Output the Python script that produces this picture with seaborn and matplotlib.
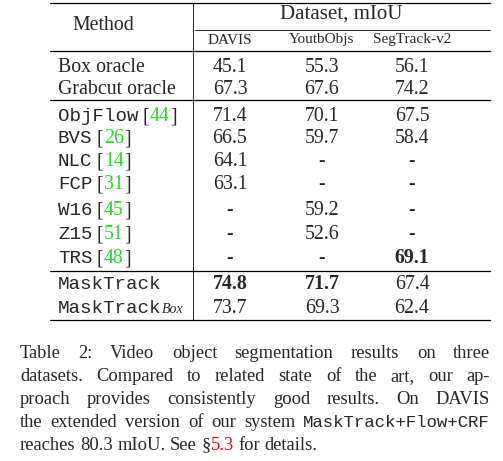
import matplotlib
matplotlib.use("Agg")
import matplotlib.pyplot as plt
import seaborn as sns

sns.set_theme(style="white")
SERIF = "Liberation Serif"
MONO = "Liberation Mono"

methods = ["Box oracle", "Grabcut oracle", "ObjFlow", "BVS", "NLC", "FCP", "W16", "Z15", "TRS", "MaskTrack", "MaskTrack"]
mono = [False, False, True, True, True, True, True, True, True, True, True]
cites = ["", "", "44", "26", "14", "31", "45", "51", "48", "", ""]
davis = ["45.1", "67.3", "71.4", "66.5", "64.1", "63.1", "-", "-", "-", "74.8", "73.7"]
youtube = ["55.3", "67.6", "70.1", "59.7", "-", "-", "59.2", "52.6", "-", "71.7", "69.3"]
segtrack = ["56.1", "74.2", "67.5", "58.4", "-", "-", "-", "-", "69.1", "67.4", "62.4"]
bold = {(9, 0), (9, 1), (8, 2)}
columns = ["DAVIS", "YoutbObjs", "SegTrack-v2"]
row_y = [67, 89, 116, 138, 161, 184, 210, 234, 258, 284, 308]
GREEN = "#22dd22"

fig = plt.figure(figsize=(5.03, 4.61), dpi=100)
ax = fig.add_axes([0, 0, 1, 1])
ax.set_xlim(0, 503); ax.set_ylim(461, 0); ax.axis("off")
fs = 14.3
mfs = 13.8
lw = 0.9
for y in [3, 51, 100, 271, 320]:
    ax.plot([50, 490], [y, y], color="black", lw=lw)
ax.plot([195, 490], [30, 30], color="black", lw=0.6)
ax.plot([193, 193], [3, 320], color="black", lw=0.6)
ax.text(103, 26, "Method", ha="center", va="center", family=SERIF, fontsize=fs)
ax.text(341, 14, "Dataset, mIoU", ha="center", va="center", family=SERIF, fontsize=15)
cx = [230, 322, 412]
for c, name in zip(cx, columns):
    ax.text(c, 40, name, ha="center", va="center", family=SERIF, fontsize=11)

fig.canvas.draw()
r = fig.canvas.get_renderer()
inv = ax.transData.inverted()

def seq(x, y, parts, gap=0.0):
    for s, kw in parts:
        t = ax.text(x, y, s, ha="left", va="baseline", **kw)
        bb = t.get_window_extent(renderer=r)
        x0 = inv.transform((bb.x0, bb.y0))[0]; x1 = inv.transform((bb.x1, bb.y0))[0]
        x += (x1 - x0) + gap
    return x

for i, m in enumerate(methods):
    y = row_y[i] + 5
    kwm = dict(family=MONO, fontsize=mfs) if mono[i] else dict(family=SERIF, fontsize=fs)
    parts = [(m, kwm)]
    if cites[i]:
        parts += [(" [", dict(family=SERIF, fontsize=fs)), (cites[i], dict(family=SERIF, fontsize=fs, color=GREEN)), ("]", dict(family=SERIF, fontsize=fs))]
    if i == 10:
        parts += [("Box", dict(family=SERIF, fontsize=10, style="italic"))]
    seq(58, y, parts)
    for j, vals in enumerate([davis, youtube, segtrack]):
        ax.text(cx[j], row_y[i], vals[i], ha="center", va="center", family=SERIF, fontsize=fs,
                fontweight="bold" if (i, j) in bold else "normal")

S = dict(family=SERIF, fontsize=13.3)
M = dict(family=MONO, fontsize=12.5)
R = dict(family=SERIF, fontsize=13.3, color="red")
lines = [
    [("Table", S), ("2:", S), ("Video", S), ("object", S), ("segmentation", S), ("results", S), ("on", S), ("three", S)],
    [("datasets.", S), ("Compared", S), ("to", S), ("related", S), ("state", S), ("of", S), ("the", S), ("art,", S), ("our", S), ("ap-", S)],
    [("proach", S), ("provides", S), ("consistently", S), ("good", S), ("results.", S), ("On", S), ("DAVIS", S)],
    [("the", S), ("extended", S), ("version", S), ("of", S), ("our", S), ("system", S), ("MaskTrack+Flow+CRF", M)],
    [("reaches", S), ("80.3", S), ("mIoU.", S), ("See", S), ("§", S), ("5.3", R), ("for", S), ("details.", S)],
]
def width(s, kw):
    t = ax.text(0, 0, s, **kw); bb = t.get_window_extent(renderer=r); t.remove()
    return inv.transform((bb.x1, 0))[0] - inv.transform((bb.x0, 0))[0]
L, Rr = 20, 490
for k, words in enumerate(lines):
    y = 358 + 23 * k
    if k < 4:
        ws = [width(w, kw) for w, kw in words]
        gap = (Rr - L - sum(ws)) / (len(words) - 1)
        x = L
        for (w, kw), wd in zip(words, ws):
            ax.text(x, y, w, ha="left", va="baseline", **kw); x += wd + gap
    else:
        x = L
        for n, (w, kw) in enumerate(words):
            ax.text(x, y, w, ha="left", va="baseline", **kw)
            x += width(w, kw) + (0 if w == "§" else 4.5)
fig.savefig("out.png", dpi=100)
